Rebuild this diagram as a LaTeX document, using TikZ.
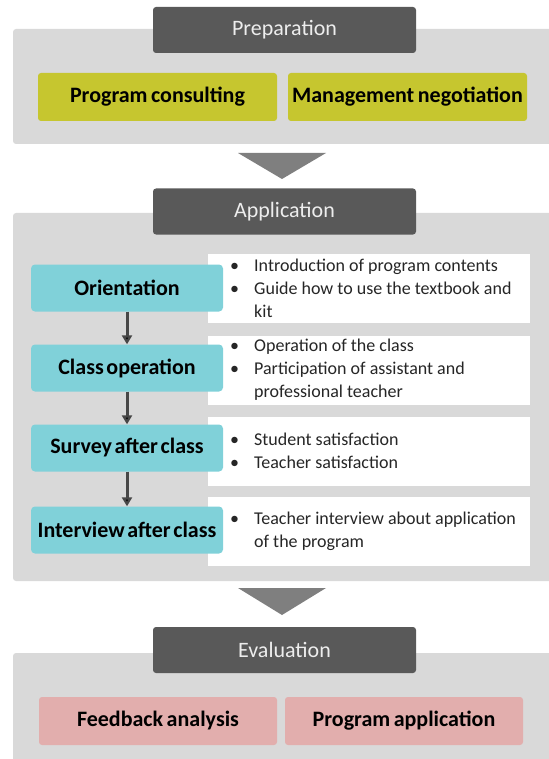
\documentclass[tikz,border=0pt]{standalone}
\usepackage{fontspec}
\setmainfont{Carlito}
\usetikzlibrary{arrows.meta, positioning}

\definecolor{headgray}{HTML}{595959}
\definecolor{panelgray}{HTML}{D9D9D9}
\definecolor{prepyellow}{HTML}{C6C62F}
\definecolor{stepcyan}{HTML}{80D1D9}
\definecolor{evalpink}{HTML}{E2AEAD}
\definecolor{flowgray}{HTML}{7F7F7F}

\newcommand{\bul}{\makebox[24pt][l]{\textbullet}}
\newcommand{\bulgap}{\hspace*{24pt}}
\newcommand{\labelfont}[1]{\bfseries\fontsize{22}{24}\selectfont\spaceskip #1em\relax}

\begin{document}
\begin{tikzpicture}[
        x = 1pt, y = -1pt, node distance = 80pt, on grid,
        >= {Triangle[width = 10pt, length = 9pt]},
        panel/.style = {fill = panelgray, rounded corners = 3pt},
        header/.style = {fill = headgray, rounded corners = 3pt, inner sep = 0pt,
            minimum width = 263pt, minimum height = 46pt,
            text = white!93!black, font = \fontsize{22}{24}\selectfont},
        task/.style = {rounded corners = 3pt, inner sep = 0pt,
            minimum width = 239pt, minimum height = 48pt,
            font = \labelfont{0.16}},
        stepbox/.style = {fill = stepcyan, rounded corners = 4pt, inner sep = 0pt,
            minimum width = 192pt, minimum height = 47pt,
            font = \labelfont{0.12}},
        note/.style = {fill = white, inner sep = 0pt,
            minimum width = 322pt, minimum height = 69pt},
        notetext/.style = {anchor = west, align = left, inner sep = 0pt,
            text = black!85, font = \fontsize{18}{23}\selectfont},
        flow/.style = {fill = flowgray},
        flowline/.style = {->, draw = black!72, line width = 3pt}
    ]
      \useasboundingbox (0,0) rectangle (548,759);

      \fill[panel] (13,29)  rectangle (556,144);
      \fill[panel] (13,213) rectangle (556,581);
      \fill[panel] (13,653) rectangle (556,770);

      \fill[flow] (238,153) -- (326,153) -- (282,179) -- cycle;
      \fill[flow] (238,588) -- (326,588) -- (282,615) -- cycle;

      \node[header] (prep) at (284.5,30)  {Preparation};
      \node[header] (appl) at (284.5,211.5) {Application};
      \node[header] (eval) at (284.5,650) {Evaluation};

      \node[task, fill = prepyellow] (consult) at (157.5,97) {Program consulting};
      \node[task, fill = prepyellow] (negot)   at (407.5,97) {Management negotiation};

      \node[note] (orientNote) at (369,288.5) {};
      \node[note] (classNote)  at (369,370)   {};
      \node[note] (surveyNote) at (369,451)   {};
      \node[note] (intervNote) at (369,531.5) {};

      \node[notetext] (orientText) at (230,288.5)
        {\bul Introduction of program contents\\
         \bul Guide how to use the textbook and\\
         \bulgap kit};
      \node[notetext] (classText) at (230,370)
        {\bul Operation of the class\\
         \bul Participation of assistant and\\
         \bulgap professional teacher};
      \node[notetext] (surveyText) at (230,451)
        {\bul Student satisfaction\\
         \bul Teacher satisfaction};
      \node[notetext] (intervText) at (230,531.5)
        {\bul Teacher interview about application\\
         \bulgap of the program};

      \node[stepbox] (orient) at (127,288) {Orientation};
      \node[stepbox] (classop) [below = of orient]  {Class operation};
      \node[stepbox] (survey)  [below = of classop] {Survey after class};
      \node[stepbox] (interv)  [below = 82pt of survey] {Interview after class};

      \path[flowline]
        (orient)  edge (classop)
        (classop) edge (survey)
        (survey)  edge (interv);

      \node[task, fill = evalpink, minimum width = 238pt] (feedback) at (158,721) {Feedback analysis};
      \node[task, fill = evalpink, minimum width = 238pt] (progapp)  at (404,721) {Program application};
    \end{tikzpicture}
\end{document}
